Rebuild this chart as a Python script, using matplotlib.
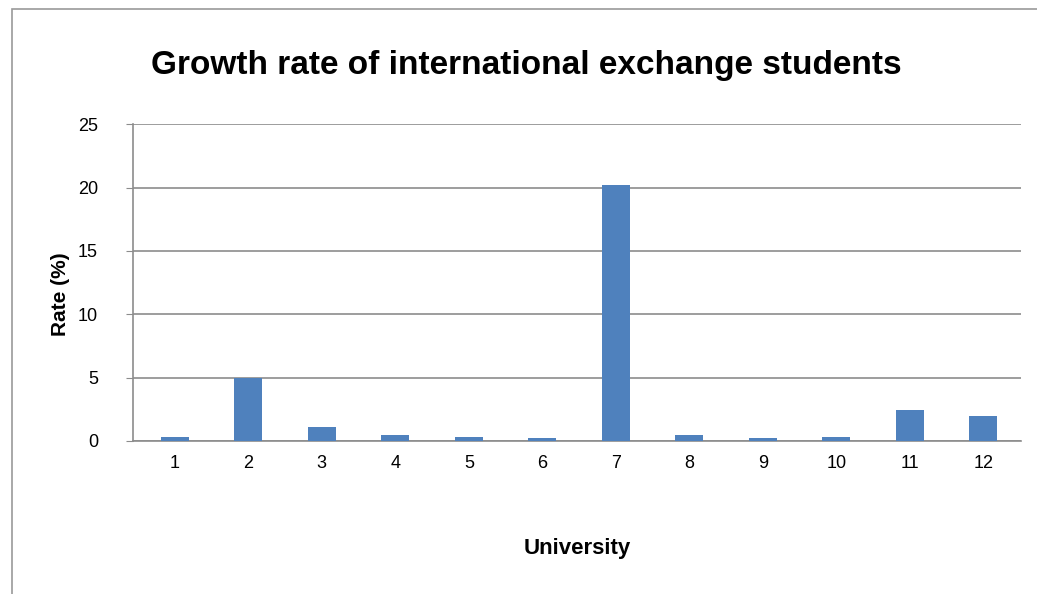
import numpy as np
import matplotlib.pyplot as plt
from matplotlib.patches import Rectangle

universities = [str(i) for i in range(1, 13)]
rates = [0.35, 5.0, 1.1, 0.5, 0.35, 0.2, 20.2, 0.5, 0.2, 0.35, 2.45, 2.0]
y_ticks = [0, 5, 10, 15, 20, 25]

plt.rcParams['font.family'] = ['Liberation Sans', 'DejaVu Sans']

fig = plt.figure(figsize=(10.37, 5.94), dpi=100)
# light frame around the chart area
fig.patches.append(Rectangle((12 / 1037, -0.1), 1.2, 1 - 9 / 594 + 0.1,
                             transform=fig.transFigure, fill=False,
                             edgecolor='#9a9a9a', linewidth=1.2))

ax = fig.add_axes([0.128, 0.2576, 0.857, 0.5334])
x = np.arange(len(universities))
ax.bar(x, rates, width=0.38, color='#4F81BD', zorder=3)

ax.set_xlim(-0.572, 11.517)
ax.set_ylim(0, 25)
ax.set_yticks(y_ticks)
ax.set_xticks(x)
ax.set_xticklabels(universities)
ax.yaxis.grid(True, color='#8c8c8c', linewidth=1.2, zorder=0)

for side in ['top', 'right']:
    ax.spines[side].set_visible(False)
ax.spines['left'].set_color('#8c8c8c')
ax.spines['bottom'].set_color('#8c8c8c')
ax.spines['left'].set_linewidth(1.2)
ax.spines['bottom'].set_linewidth(1.2)
ax.tick_params(axis='y', length=5, color='#8c8c8c', labelsize=13, pad=20)
ax.tick_params(axis='x', length=0, labelsize=13, pad=10)

fig.text(0.508, 0.89, 'Growth rate of international exchange students',
         ha='center', va='center', fontsize=24, fontweight='bold')
fig.text(0.058, 0.505, 'Rate (%)', ha='center', va='center', rotation=90,
         fontsize=15, fontweight='bold')
fig.text(0.557, 0.077, 'University', ha='center', va='center',
         fontsize=16, fontweight='bold')

fig.savefig('out.png', dpi=100)
